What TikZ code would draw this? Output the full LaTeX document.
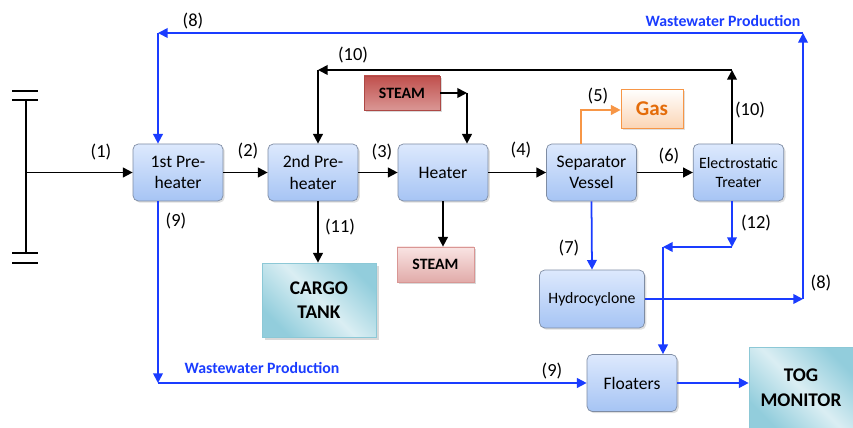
\documentclass[tikz,border=0pt]{standalone}
\usepackage{fontspec}
\setmainfont{Carlito}
\usetikzlibrary{arrows.meta,shadows}
\definecolor{boxtop}{HTML}{DDE9FD}
\definecolor{boxbot}{HTML}{A6C4F4}
\definecolor{boxedge}{HTML}{7E8CA3}
\definecolor{wblue}{HTML}{1A3CFF}
\definecolor{gasline}{HTML}{F79646}
\definecolor{gastext}{HTML}{E46C0A}
\definecolor{gasfill}{HTML}{FBD5B5}
\definecolor{tankdark}{HTML}{92CDDC}
\definecolor{tanklight}{HTML}{DAEEF3}
\definecolor{tankedge}{HTML}{8CC8D6}
\definecolor{steamdark}{HTML}{C0504D}
\definecolor{steamlight}{HTML}{DA9694}
\definecolor{steampale}{HTML}{F9E4E3}
\definecolor{steamedge}{HTML}{D99694}
\tikzset{
  unit/.style={draw=boxedge, rounded corners=3pt, top color=boxtop, bottom color=boxbot,
    minimum width=1.8cm, minimum height=1.14cm, align=center, font=\fontsize{10}{12}\selectfont,
    drop shadow={shadow xshift=1pt, shadow yshift=-1pt, opacity=0.25}},
  tank/.style={draw=tankedge, top color=tankdark, bottom color=tankdark, middle color=tanklight,
    shading angle=-45, align=center, font=\fontsize{11}{14}\selectfont\bfseries,
    drop shadow={shadow xshift=1.5pt, shadow yshift=-1.5pt, opacity=0.3}},
  flow/.style={-{Triangle[length=5.5pt,width=5.5pt]}, line width=1pt},
  wflow/.style={flow, wblue},
  gasflow/.style={flow, gasline},
  tag/.style={font=\fontsize{10.5}{12}\selectfont},
  wtag/.style={font=\fontsize{9}{11}\selectfont\bfseries, text=wblue}
}
\begin{document}
\begin{tikzpicture}[x=0.02cm, y=-0.02cm]
    \useasboundingbox (0,0) rectangle (853,428);
    \draw[line width=1pt] (26,100) -- (26,253);
    \draw[line width=1pt] (12,91) -- (38,91);
    \draw[line width=1pt] (12,100) -- (38,100);
    \draw[line width=1pt] (12,253) -- (38,253);
    \draw[line width=1pt] (12,263) -- (38,263);
    \coordinate (feed) at (26,172.5);
    \node[unit] (pre1) at (178,172.5) {1st Pre-\\heater};
    \node[unit] (pre2) at (313,172.5) {2nd Pre-\\heater};
    \node[unit] (heat) at (443,172.5) {Heater};
    \node[unit] (sep) at (591.5,172.5) {Separator\\Vessel};
    \node[unit, font=\fontsize{9}{11}\selectfont] (treat) at (738.5,172.5) {Electrostatic\\Treater};
    \node[unit, minimum width=2.1cm, minimum height=1.16cm, font=\fontsize{9}{11}\selectfont] (hydro) at (592,299) {Hydrocyclone};
    \node[unit] (float) at (632,383) {Floaters};
    \node[tank, minimum width=2.28cm, minimum height=1.48cm] (cargo) at (319,300) {CARGO\\TANK};
    \node[tank, minimum width=2.08cm, minimum height=1.64cm] (tog) at (801,388) {TOG\\MONITOR};
    \node[draw=steamdark!90!black, top color=steamdark, bottom color=steamlight,
      minimum width=1.52cm, minimum height=0.68cm, font=\fontsize{9}{11}\selectfont\bfseries,
      drop shadow={shadow xshift=1pt, shadow yshift=-1pt, opacity=0.3}] (steamhi) at (402,93) {STEAM};
    \node[draw=steamedge, top color=steampale, bottom color=steamlight!80,
      minimum width=1.54cm, minimum height=0.7cm, font=\fontsize{9}{11}\selectfont\bfseries,
      drop shadow={shadow xshift=1pt, shadow yshift=-1pt, opacity=0.3}] (steamlo) at (435.5,264.5) {STEAM};
    \node[draw=gasline, top color=white, bottom color=gasfill, text=gastext,
      minimum width=1.24cm, minimum height=0.78cm, font=\fontsize{12}{14}\selectfont\bfseries,
      drop shadow={shadow xshift=1pt, shadow yshift=-1pt, opacity=0.25}] (gas) at (652,108.5) {Gas};
    \draw[flow] (feed) -- (pre1);
    \draw[flow] (pre1) -- (pre2);
    \draw[flow] (pre2) -- (heat);
    \draw[flow] (heat) -- (sep);
    \draw[flow] (sep) -- (treat);
    \coordinate (st) at (467,93);
    \draw[flow] (steamhi) -- (st);
    \draw[flow] (st) -- (st |- heat.north);
    \draw[flow] (heat.south) -- (heat.south |- steamlo.north);
    \draw[flow] (pre2.south -| 318,0) -- (318,0 |- cargo.north);
    \coordinate (r10) at (732,70);
    \coordinate (l10) at (318,70);
    \draw[flow] (treat.north -| r10) -- (r10);
    \draw[flow] (r10) -- (l10);
    \draw[flow] (l10) -- (l10 |- pre2.north);
    \coordinate (gasup) at (581,110);
    \draw[gasflow] (sep.north -| gasup) -- (gasup) -- (gas.west |- gasup);
    \draw[wflow] (sep.south) -- (hydro.north);
    \coordinate (b8) at (803,299);
    \coordinate (r8) at (803,33);
    \coordinate (l8) at (158,33);
    \draw[wflow] (hydro.east) -- (b8);
    \draw[wflow] (b8) -- (r8);
    \draw[wflow] (r8) -- (l8);
    \draw[wflow] (l8) -- (l8 |- pre1.north);
    \coordinate (c9) at (158,383);
    \draw[wflow] (pre1.south -| c9) -- (c9);
    \draw[wflow] (c9) -- (float.west);
    \coordinate (r12) at (732,247);
    \coordinate (l12) at (663,247);
    \draw[wflow] (treat.south -| r12) -- (r12);
    \draw[wflow] (r12) -- (l12);
    \draw[wflow] (l12) -- (l12 |- float.north);
    \draw[wflow] (float.east) -- (float.east -| tog.west);
    \node[tag] (t1) at (101,152) {(1)};
    \node[tag] (t2) at (248,151) {(2)};
    \node[tag] (t3) at (382,152) {(3)};
    \node[tag] (t4) at (521,150) {(4)};
    \node[tag] (t5) at (598,96) {(5)};
    \node[tag] (t6) at (669,156) {(6)};
    \node[tag] (t7) at (569,248) {(7)};
    \node[tag] (t8a) at (193,21) {(8)};
    \node[tag] (t8b) at (821,283) {(8)};
    \node[tag] (t9a) at (176,221) {(9)};
    \node[tag] (t9b) at (552,371) {(9)};
    \node[tag] (t10a) at (353,55) {(10)};
    \node[tag] (t10b) at (750,110) {(10)};
    \node[tag] (t11) at (340,227) {(11)};
    \node[tag] (t12) at (756,223) {(12)};
    \node[wtag] (ww1) at (723,21) {Wastewater Production};
    \node[wtag] (ww2) at (262,368) {Wastewater Production};
\end{tikzpicture}
\end{document}
